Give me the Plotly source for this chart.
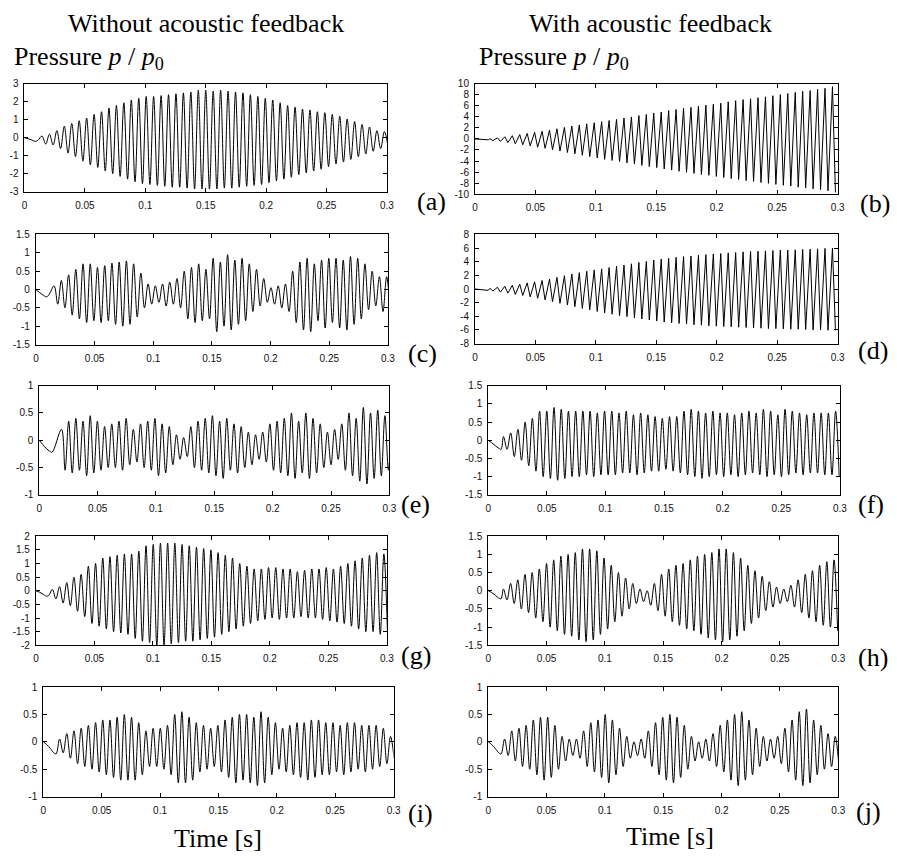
import plotly.graph_objects as go

W, H = 897, 864

# ---------------- data ----------------
period = 0.00616                      # oscillation period [s]
pre_t = [0.0, 0.003, 0.006, 0.009, 0.011]

x_ticks = [0, 0.05, 0.1, 0.15, 0.2, 0.25, 0.3]
x_labels = ["0", "0.05", "0.1", "0.15", "0.2", "0.25", "0.3"]

# (a) without feedback
a_t0 = 0.0145
a_pre = [0.0, -0.05, -0.12, -0.2, -0.15]
a_peaks = [0.1, 0.2, 0.4, 0.65, 0.8, 0.95, 1.1, 1.3, 1.45, 1.65, 1.8, 1.95, 2.1, 2.2, 2.3, 2.3,
           2.35, 2.4, 2.45, 2.5, 2.55, 2.65, 2.65, 2.6, 2.65, 2.6, 2.55, 2.5, 2.4, 2.3, 2.2, 2.1,
           1.95, 1.8, 1.7, 1.6, 1.55, 1.45, 1.4, 1.3, 1.2, 1.05, 0.9, 0.75, 0.6, 0.4, 0.35]
a_troughs = [-0.35, -0.4, -0.6, -0.85, -1.05, -1.3, -1.5, -1.65, -1.85, -2.0, -2.15, -2.3, -2.45,
             -2.55, -2.6, -2.65, -2.7, -2.75, -2.75, -2.8, -2.85, -2.85, -2.85, -2.85, -2.8, -2.8,
             -2.75, -2.7, -2.65, -2.6, -2.5, -2.4, -2.3, -2.2, -2.05, -1.95, -1.85, -1.75, -1.6,
             -1.45, -1.35, -1.2, -1.05, -0.9, -0.75, -0.6, -0.5]
a_yticks = [-3, -2, -1, 0, 1, 2, 3]

# (b) with feedback
b_t0 = 0.0124
b_pre = [0.0, -0.05, -0.1, -0.2, -0.15]
b_peaks = [0.05, 0.2, 0.4, 0.6, 0.8, 1.0, 1.2, 1.4, 1.6, 1.85, 2.1, 2.35, 2.55, 2.75, 2.95, 3.15,
           3.35, 3.55, 3.8, 4.0, 4.25, 4.45, 4.7, 4.9, 5.15, 5.35, 5.55, 5.75, 5.95, 6.15, 6.3,
           6.5, 6.75, 6.95, 7.15, 7.3, 7.5, 7.65, 7.85, 8.05, 8.25, 8.45, 8.65, 8.8, 9.0, 9.2, 9.5]
b_troughs = [-0.3, -0.45, -0.65, -0.85, -1.05, -1.25, -1.5, -1.7, -1.95, -2.2, -2.45, -2.7, -2.95,
             -3.2, -3.45, -3.7, -3.9, -4.1, -4.35, -4.55, -4.8, -5.0, -5.2, -5.45, -5.65, -5.85,
             -6.05, -6.25, -6.45, -6.6, -6.8, -7.0, -7.2, -7.35, -7.55, -7.7, -7.9, -8.05, -8.25,
             -8.4, -8.55, -8.75, -8.9, -9.05, -9.2, -9.4, -9.7]
b_yticks = [-10, -8, -6, -4, -2, 0, 2, 4, 6, 8, 10]

# (c)
c_t0 = 0.0155
c_pre = [0.0, -0.08, -0.15, -0.2, -0.15]
c_peaks = [0.1, 0.25, 0.4, 0.55, 0.7, 0.7, 0.6, 0.65, 0.72, 0.75, 0.78, 0.7, 0.45, 0.15, 0.1,
           0.15, 0.2, 0.3, 0.5, 0.6, 0.7, 0.55, 0.85, 0.75, 0.95, 0.8, 0.85, 0.7, 0.55, 0.3, 0.05,
           0.1, 0.15, 0.5, 0.75, 0.85, 0.7, 0.8, 0.85, 0.85, 0.8, 0.9, 0.85, 0.7, 0.5, 0.35, 0.35]
c_troughs = [-0.4, -0.5, -0.7, -0.8, -0.9, -0.85, -0.9, -0.85, -0.95, -1.0, -0.95, -0.75, -0.5,
             -0.4, -0.35, -0.45, -0.4, -0.5, -0.8, -0.9, -0.85, -0.8, -1.15, -1.0, -1.1, -0.95,
             -0.85, -0.6, -0.45, -0.35, -0.4, -0.5, -0.6, -0.9, -1.1, -1.15, -0.85, -1.05, -0.9,
             -1.05, -1.1, -0.95, -0.8, -0.55, -0.45, -0.6, -0.7]
c_yticks = [-1.5, -1, -0.5, 0, 0.5, 1, 1.5]

# (d)
d_t0 = 0.0124
d_pre = [0.0, -0.05, -0.1, -0.2, -0.2]
d_peaks = [0.1, 0.25, 0.4, 0.55, 0.7, 0.9, 1.05, 1.25, 1.45, 1.7, 1.95, 2.2, 2.4, 2.6, 2.8, 2.95,
           3.15, 3.35, 3.5, 3.7, 3.9, 4.05, 4.25, 4.4, 4.5, 4.65, 4.75, 4.85, 4.95, 5.05, 5.15,
           5.2, 5.3, 5.35, 5.45, 5.5, 5.55, 5.6, 5.65, 5.7, 5.7, 5.75, 5.8, 5.85, 5.9, 5.95, 6.0]
d_troughs = [-0.3, -0.45, -0.6, -0.8, -0.95, -1.15, -1.35, -1.6, -1.85, -2.1, -2.35, -2.6, -2.85,
             -3.05, -3.3, -3.5, -3.7, -3.9, -4.05, -4.25, -4.4, -4.55, -4.7, -4.85, -4.95, -5.05,
             -5.15, -5.25, -5.3, -5.4, -5.45, -5.5, -5.55, -5.6, -5.65, -5.7, -5.75, -5.8, -5.8,
             -5.85, -5.9, -5.9, -5.95, -6.0, -6.0, -6.05, -6.1]
d_yticks = [-8, -6, -4, -2, 0, 2, 4, 6, 8]

# (e)
e_t0 = 0.019
e_pre = [0.0, -0.08, -0.15, -0.2, -0.22]
e_peaks = [0.2, 0.35, 0.4, 0.35, 0.45, 0.35, 0.25, 0.3, 0.35, 0.4, 0.2, 0.3, 0.35, 0.4, 0.3, 0.25,
           0.1, 0.05, 0.25, 0.35, 0.4, 0.45, 0.35, 0.4, 0.3, 0.25, 0.15, 0.1, 0.15, 0.3, 0.35, 0.4,
           0.5, 0.35, 0.5, 0.4, 0.3, 0.15, 0.2, 0.3, 0.5, 0.4, 0.6, 0.5, 0.55, 0.45, 0.3]
e_troughs = [-0.55, -0.6, -0.55, -0.65, -0.6, -0.55, -0.5, -0.5, -0.55, -0.45, -0.4, -0.5, -0.55,
             -0.65, -0.6, -0.45, -0.35, -0.3, -0.5, -0.55, -0.6, -0.65, -0.7, -0.55, -0.6, -0.5,
             -0.45, -0.35, -0.4, -0.55, -0.6, -0.65, -0.7, -0.6, -0.7, -0.6, -0.5, -0.45, -0.35,
             -0.55, -0.65, -0.75, -0.8, -0.7, -0.65, -0.55, -0.3]
e_yticks = [-1, -0.5, 0, 0.5, 1]

# (f)
f_t0 = 0.013
f_pre = [0.0, -0.07, -0.15, -0.22, -0.25]
f_peaks = [0.1, 0.2, 0.3, 0.5, 0.6, 0.8, 0.8, 0.9, 0.85, 0.8, 0.8, 0.8, 0.8, 0.75, 0.8, 0.8, 0.75,
           0.8, 0.7, 0.75, 0.7, 0.65, 0.6, 0.65, 0.65, 0.8, 0.85, 0.8, 0.75, 0.8, 0.75, 0.75, 0.7,
           0.75, 0.8, 0.75, 0.85, 0.8, 0.7, 0.85, 0.8, 0.75, 0.7, 0.75, 0.75, 0.75, 0.8]
f_troughs = [-0.25, -0.45, -0.55, -0.7, -0.85, -1.0, -1.05, -1.1, -1.05, -1.0, -1.0, -0.95, -1.0,
             -0.95, -0.95, -0.95, -0.9, -0.9, -0.95, -0.9, -0.85, -0.85, -0.8, -0.85, -0.9, -0.95,
             -1.0, -1.05, -1.0, -0.95, -1.0, -0.95, -1.0, -0.95, -0.9, -0.95, -1.0, -0.95, -1.0,
             -0.95, -0.9, -0.95, -0.9, -0.9, -0.95, -0.95, -1.0]
f_yticks = [-1.5, -1, -0.5, 0, 0.5, 1, 1.5]

# (g)
g_t0 = 0.014
g_pre = [0.0, -0.05, -0.12, -0.2, -0.17]
g_peaks = [0.05, 0.15, 0.3, 0.5, 0.6, 0.9, 1.0, 1.2, 1.25, 1.3, 1.35, 1.35, 1.45, 1.65, 1.7, 1.75,
           1.75, 1.75, 1.7, 1.65, 1.6, 1.55, 1.5, 1.4, 1.3, 1.2, 1.0, 0.9, 0.8, 0.8, 0.85, 0.85,
           0.8, 0.8, 0.7, 0.75, 0.8, 0.8, 0.85, 0.8, 0.9, 1.0, 1.1, 1.2, 1.3, 1.4, 1.35]
g_troughs = [-0.3, -0.45, -0.55, -0.75, -0.95, -1.2, -1.3, -1.4, -1.5, -1.55, -1.6, -1.75, -1.85,
             -1.9, -2.0, -2.0, -1.95, -1.9, -1.85, -1.85, -1.8, -1.75, -1.7, -1.6, -1.5, -1.4,
             -1.3, -1.2, -1.1, -1.05, -1.0, -1.05, -1.0, -1.0, -0.95, -1.0, -1.0, -1.05, -1.1,
             -1.15, -1.2, -1.3, -1.4, -1.5, -1.5, -1.6, -1.55]
g_yticks = [-2, -1.5, -1, -0.5, 0, 0.5, 1, 1.5, 2]

# (h)
h_t0 = 0.013
h_pre = [0.0, -0.05, -0.12, -0.2, -0.22]
h_peaks = [0.05, 0.2, 0.3, 0.45, 0.5, 0.6, 0.75, 0.85, 0.95, 1.0, 1.05, 1.15, 1.15, 1.1, 0.9, 0.7,
           0.5, 0.35, 0.2, 0.05, 0.0, 0.2, 0.45, 0.6, 0.7, 0.75, 0.85, 0.95, 1.0, 1.05, 1.15, 1.15,
           1.05, 0.9, 0.7, 0.55, 0.4, 0.25, 0.1, 0.05, 0.15, 0.3, 0.45, 0.55, 0.7, 0.8, 0.85]
h_troughs = [-0.25, -0.35, -0.5, -0.6, -0.75, -0.85, -1.0, -1.1, -1.2, -1.25, -1.35, -1.4, -1.35,
             -1.2, -1.05, -0.85, -0.7, -0.5, -0.35, -0.3, -0.4, -0.55, -0.7, -0.85, -0.95, -1.05,
             -1.1, -1.2, -1.3, -1.35, -1.4, -1.35, -1.25, -1.1, -0.9, -0.75, -0.55, -0.45, -0.35,
             -0.3, -0.45, -0.6, -0.75, -0.85, -0.95, -1.0, -1.1]
h_yticks = [-1.5, -1, -0.5, 0, 0.5, 1, 1.5]

# (i)
i_t0 = 0.014
i_pre = [0.0, -0.05, -0.12, -0.2, -0.22]
i_peaks = [0.05, 0.15, 0.2, 0.25, 0.3, 0.35, 0.4, 0.4, 0.45, 0.5, 0.45, 0.35, 0.2, 0.25, 0.25, 0.3,
           0.5, 0.55, 0.45, 0.35, 0.3, 0.25, 0.3, 0.4, 0.45, 0.5, 0.5, 0.45, 0.55, 0.45, 0.35,
           0.25, 0.3, 0.35, 0.35, 0.4, 0.4, 0.35, 0.35, 0.3, 0.35, 0.35, 0.3, 0.3, 0.3, 0.25, 0.1]
i_troughs = [-0.2, -0.3, -0.4, -0.45, -0.5, -0.55, -0.6, -0.65, -0.7, -0.7, -0.7, -0.6, -0.45,
             -0.45, -0.5, -0.6, -0.75, -0.75, -0.7, -0.55, -0.5, -0.45, -0.55, -0.65, -0.75, -0.7,
             -0.75, -0.8, -0.75, -0.6, -0.5, -0.55, -0.6, -0.65, -0.7, -0.65, -0.6, -0.6, -0.55,
             -0.6, -0.55, -0.5, -0.55, -0.5, -0.45, -0.4, -0.3]
i_yticks = [-1, -0.5, 0, 0.5, 1]

# (j)
j_t0 = 0.014
j_pre = [0.0, -0.05, -0.12, -0.2, -0.22]
j_peaks = [0.05, 0.2, 0.25, 0.3, 0.4, 0.45, 0.45, 0.3, 0.1, 0.05, 0.05, 0.2, 0.35, 0.4, 0.5, 0.4,
           0.25, 0.1, 0.0, 0.05, 0.2, 0.35, 0.45, 0.5, 0.45, 0.3, 0.1, 0.0, 0.05, 0.15, 0.3, 0.4,
           0.5, 0.55, 0.4, 0.25, 0.1, 0.05, 0.1, 0.25, 0.4, 0.55, 0.6, 0.4, 0.3, 0.15, 0.1]
j_troughs = [-0.25, -0.35, -0.45, -0.5, -0.6, -0.7, -0.65, -0.5, -0.35, -0.25, -0.3, -0.45, -0.55,
             -0.65, -0.75, -0.6, -0.45, -0.3, -0.25, -0.3, -0.45, -0.6, -0.7, -0.75, -0.65, -0.5,
             -0.35, -0.3, -0.35, -0.45, -0.55, -0.7, -0.8, -0.7, -0.6, -0.45, -0.35, -0.3, -0.4,
             -0.55, -0.7, -0.8, -0.75, -0.6, -0.5, -0.45, -0.4]
j_yticks = [-1, -0.5, 0, 0.5, 1]


# ---------------- figure ----------------
def build(t0, pre, peaks, troughs, fall=0.5):
    xs, ys = list(pre_t), list(pre)
    for k, (p, q) in enumerate(zip(peaks, troughs)):
        tp = t0 + k * period
        xs += [tp, tp + fall * period]
        ys += [p, q]
    return xs, ys


def px(x):
    return x / W


def py(y):
    return 1 - y / H


# name, data, y ticks, frame box (left, right, top, bottom) px, label pos, line shape
panels = [
    ("a", build(a_t0, a_pre, a_peaks, a_troughs), a_yticks, (21.7, 388.3, 79, 188.3), (417, 198), "spline"),
    ("b", build(b_t0, b_pre, b_peaks, b_troughs, 0.4), b_yticks, (477.3, 844, 79, 190.7), (865, 200), "linear"),
    ("c", build(c_t0, c_pre, c_peaks, c_troughs), c_yticks, (33.3, 389.3, 231.7, 343.3), (408, 352), "spline"),
    ("d", build(d_t0, d_pre, d_peaks, d_troughs, 0.4), d_yticks, (477.3, 844, 231.7, 342.3), (863, 349), "linear"),
    ("e", build(e_t0, e_pre, e_peaks, e_troughs), e_yticks, (36.7, 390.7, 385, 495.7), (400, 506), "spline"),
    ("f", build(f_t0, f_pre, f_peaks, f_troughs), f_yticks, (490.7, 846.3, 385, 495.7), (863, 506), "spline"),
    ("g", build(g_t0, g_pre, g_peaks, g_troughs), g_yticks, (33.3, 388.3, 537.7, 648.3), (400, 659), "spline"),
    ("h", build(h_t0, h_pre, h_peaks, h_troughs), h_yticks, (490.7, 844.7, 537.7, 648.3), (863, 661), "spline"),
    ("i", build(i_t0, i_pre, i_peaks, i_troughs), i_yticks, (40.7, 395, 690.7, 801.7), (408, 819), "spline"),
    ("j", build(j_t0, j_pre, j_peaks, j_troughs), j_yticks, (490.7, 844.7, 690.7, 801.7), (861, 817), "spline"),
]

fig = go.Figure()
SERIF = "Liberation Serif, Times New Roman, serif"
SANS = "Liberation Sans, Arial, Helvetica, sans-serif"

layout = dict(
    width=W, height=H, margin=dict(l=0, r=0, t=0, b=0),
    paper_bgcolor="white", plot_bgcolor="white", showlegend=False,
)
annotations = []

for n, (name, (xs, ys), yt, box, lab, shape) in enumerate(panels, start=1):
    xa = "x" if n == 1 else f"x{n}"
    ya = "y" if n == 1 else f"y{n}"
    line = dict(color="black", width=1, shape=shape)
    if shape == "spline":
        line["smoothing"] = 1.0
    fig.add_trace(go.Scatter(x=xs, y=ys, mode="lines", xaxis=xa, yaxis=ya,
                             line=line, hoverinfo="skip"))
    l, r, t, b = box
    common = dict(showline=True, linecolor="black", linewidth=1, mirror="ticks",
                  ticks="inside", ticklen=4, tickcolor="black", tickwidth=1,
                  showgrid=False, zeroline=False,
                  tickfont=dict(family=SANS, size=10, color="#111"))
    layout["xaxis" if n == 1 else f"xaxis{n}"] = dict(
        domain=[px(l), px(r)], anchor=ya, range=[0, 0.3],
        tickvals=x_ticks, ticktext=x_labels, ticklabelstandoff=4, **common)
    layout["yaxis" if n == 1 else f"yaxis{n}"] = dict(
        domain=[py(b), py(t)], anchor=xa, range=[yt[0], yt[-1]],
        tickvals=yt, ticktext=[("%g" % v) for v in yt], ticklabelstandoff=3, **common)
    annotations.append(dict(text=f"({name})", x=px(lab[0]), y=py(lab[1]), xref="paper", yref="paper",
                            xanchor="left", yanchor="middle", showarrow=False,
                            font=dict(family=SERIF, size=26, color="black")))

titles = [
    ("Without acoustic feedback", 205, 18, "center"),
    ("With acoustic feedback", 655, 18, "center"),
    ("Pressure <i>p</i> / <i>p</i><sub>0</sub>", 9, 53, "left"),
    ("Pressure <i>p</i> / <i>p</i><sub>0</sub>", 479, 53, "left"),
    ("Time [s]", 217, 844, "center"),
    ("Time [s]", 675, 842, "center"),
]
for txt, x, y, anc in titles:
    annotations.append(dict(text=txt, x=px(x), y=py(y), xref="paper", yref="paper",
                            xanchor=anc, yanchor="middle", showarrow=False,
                            font=dict(family=SERIF, size=26, color="black")))

layout["annotations"] = annotations
fig.update_layout(**layout)
# remove the browser's default 8 px body margin so the figure fills the window exactly
fig.write_html("out.html", config={"displayModeBar": False},
               post_script="document.body.style.margin='0';")
